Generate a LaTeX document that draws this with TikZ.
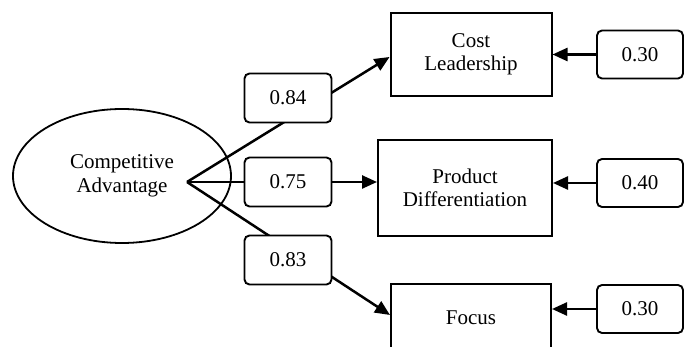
\documentclass[tikz,border=0pt]{standalone}
\usepackage{fontspec}
\setmainfont{Liberation Serif}
\usetikzlibrary{arrows.meta,shapes.geometric}
\begin{document}
\begin{tikzpicture}[x=1pt,y=-1pt,
  font=\fontsize{21pt}{23.5pt}\selectfont,
  latent/.style={draw, ellipse, line width=1.8pt, minimum width=218pt, minimum height=134pt, inner sep=0pt, align=center},
  indicator/.style={draw, rectangle, line width=2pt, inner sep=0pt, align=center},
  coef/.style={draw, rectangle, rounded corners=5pt, line width=1.9pt, fill=white, minimum width=87pt, minimum height=49pt, inner sep=0pt},
  errbox/.style={draw, rectangle, rounded corners=5pt, line width=1.9pt, fill=white, minimum width=86pt, minimum height=48pt, inner sep=0pt},
  path/.style={line width=2.5pt, -{Triangle[length=15pt,width=13pt]}}
]
\useasboundingbox (0,0) rectangle (691,347);
\clip (0,0) rectangle (691,347);

\node[latent] (ca) at (122,176) {Competitive\\Advantage};
\coordinate (hub) at (187,182);

\node[indicator, minimum width=161pt, minimum height=83pt] (cl) at (471,54.5) {Cost\\Leadership};
\node[indicator, minimum width=174pt, minimum height=96pt] (pd) at (465,188) {Product\\Differentiation};
\node[indicator, minimum width=160pt, minimum height=68pt] (fo) at (471,318) {Focus};

\draw[path] (hub) -- ([yshift=-2.5pt]cl.west);
\draw[path] (hub) -- (hub -| pd.west);
\draw[path] (hub) -- ([yshift=3pt]fo.west);

\node[coef] (c1) at (288,98) {0.84};
\node[coef] (c2) at (288,182) {0.75};
\node[coef] (c3) at (288,260) {0.83};

\node[errbox] (e1) at (640,54.5) {0.30};
\node[errbox] (e2) at (640,183) {0.40};
\node[errbox] (e3) at (640,309) {0.30};

\draw[path] (e1.west) -- (e1.west -| cl.east);
\draw[path] (e2.west) -- (e2.west -| pd.east);
\draw[path] (e3.west) -- (e3.west -| fo.east);
\end{tikzpicture}
\end{document}
